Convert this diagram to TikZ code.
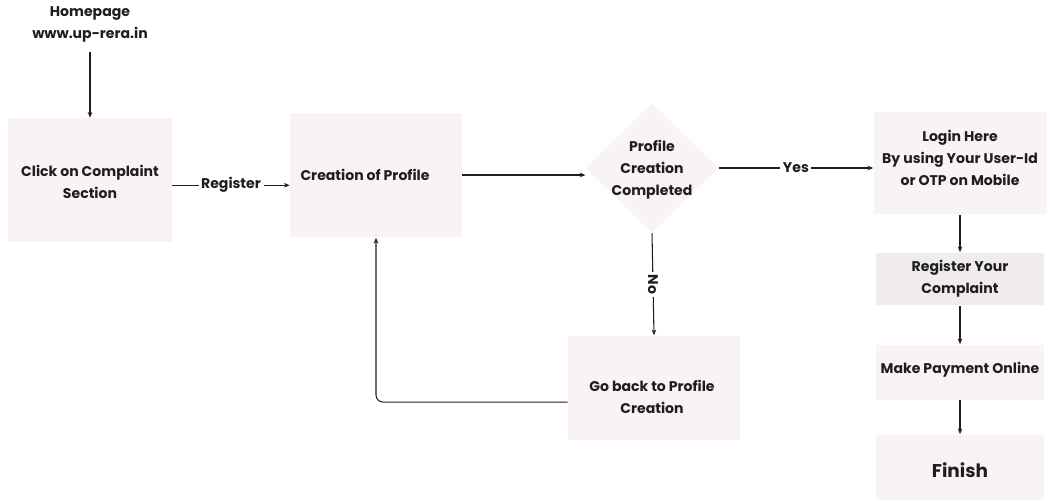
\documentclass[tikz,border=0pt]{standalone}
\usepackage{fontspec}
\setmainfont{Poppins}
\usetikzlibrary{shapes.geometric,arrows.meta}
\definecolor{boxpink}{RGB}{250,243,244}
\definecolor{boxgray}{RGB}{240,236,236}
\definecolor{ink}{RGB}{30,30,30}
\tikzset{
  txt/.style={font=\bfseries\fontsize{8}{12.5}\selectfont, text=ink, align=center},
  stepbox/.style={draw=none, fill=boxpink, inner sep=0pt},
  conn/.style={draw=ink, line width=0.6pt, -{Stealth[length=3.2pt,width=2.6pt]}},
  lbl/.style={txt, fill=white, inner sep=1.5pt}
}
\begin{document}
\begin{tikzpicture}[x=0.02cm, y=-0.02cm]
\useasboundingbox (0,0) rectangle (1050,500);
\fill[white] (0,0) rectangle (1050,500);
% boxes
\node[stepbox, minimum width=3.28cm, minimum height=2.48cm] (click) at (90,180) {};
\node[stepbox, minimum width=3.44cm, minimum height=2.5cm] (prof) at (376,175) {};
\node[diamond, fill=boxpink, inner sep=0pt, minimum width=2.65cm, minimum height=2.6cm] (dec) at (652,168) {};
\node[stepbox, minimum width=3.44cm, minimum height=2.1cm] (back) at (654,388) {};
\node[stepbox, minimum width=3.46cm, minimum height=2.06cm] (login) at (960,163) {};
\node[stepbox, fill=boxgray, minimum width=3.36cm, minimum height=1.06cm] (reg) at (960,279) {};
\node[stepbox, minimum width=3.36cm, minimum height=1.1cm] (pay) at (960,372) {};
\node[stepbox, minimum width=3.36cm, minimum height=1.3cm] (fin) at (960,467) {};
% texts
\node[txt] (home) at (90,24) {Homepage\\www.up-rera.in};
\node[txt] at (90,182) {Click on Complaint\\Section};
\node[txt] at (365,175) {Creation of Profile};
\node[txt] at (652,170) {Profile\\Creation\\Completed};
\node[txt] at (652,397) {Go back to Profile\\Creation};
\node[txt] at (960,158) {Login Here\\By using Your User-Id\\or OTP on Mobile};
\node[txt] at (960,279) {Register Your\\Complaint};
\node[txt] at (960,370) {Make Payment Online};
\node[txt, font=\bfseries\fontsize{10.5}{12}\selectfont] at (960,470) {Finish};
% connectors
\coordinate (homeb) at (90,52);
\draw[conn] (homeb) -- (click.north);
\draw[conn] ([yshift=-3pt]click.east) -- node[lbl] {Register} ([yshift=-3pt]click.east -| prof.west);
\draw[conn] (prof.east) -- (prof.east -| dec.west);
\draw[conn] (dec.east) -- node[lbl] {Yes} (dec.east -| login.west);
\draw[conn] (dec.south) -- node[lbl, rotate=-90] {No} (back.north);
\draw[conn, rounded corners=4pt] ([yshift=-8pt]back.west) -- ([yshift=-8pt]back.west -| prof.south) -- (prof.south);
\draw[conn] (login.south) -- (reg.north);
\draw[conn] (reg.south) -- (pay.north);
\draw[conn] (pay.south) -- (fin.north);
\end{tikzpicture}
\end{document}
